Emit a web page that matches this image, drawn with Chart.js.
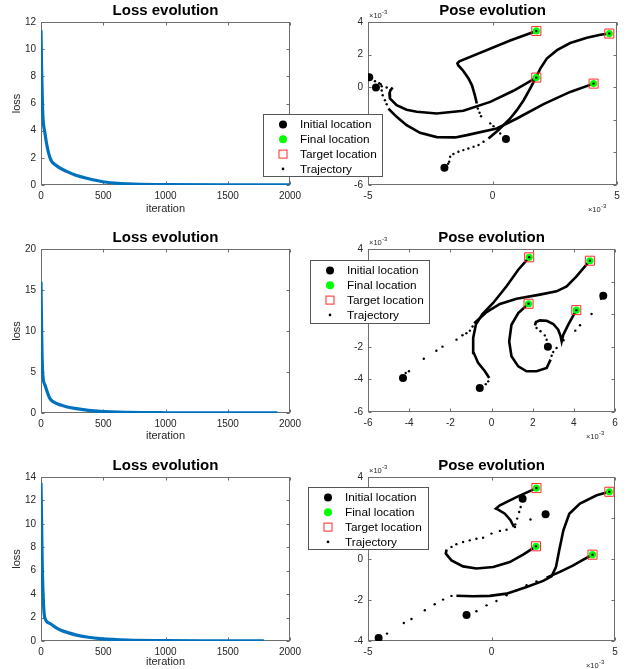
<!DOCTYPE html>
<html>
<head>
<meta charset="utf-8">
<title>Loss / Pose evolution</title>
<script src="https://cdn.jsdelivr.net/npm/chart.js@4.4.1/dist/chart.umd.min.js"></script>
<style>
  body { margin: 0; background: #fff; }
  #page { position: relative; width: 629px; height: 669px; overflow: hidden; background: #fff; }
  canvas { position: absolute; }
</style>
</head>
<body>
<div id="page">
  <canvas id="loss1"></canvas>
  <canvas id="loss2"></canvas>
  <canvas id="loss3"></canvas>
  <canvas id="pose1"></canvas>
  <canvas id="pose2"></canvas>
  <canvas id="pose3"></canvas>
</div>
<script>
// ---------------------------- loss curves ----------------------------
const lossIter1 = [0, 5, 13, 32, 72, 120, 206, 280, 367, 527, 700, 1000, 1500, 2000];
const lossVal1  = [11.4, 8.5, 5.5, 3.8, 2.0, 1.45, 1.0, 0.72, 0.5, 0.2, 0.08, 0.03, 0.01, 0.01];
const lossIter2 = [0, 5, 13, 32, 72, 120, 166, 220, 286, 380, 474, 700, 1000, 1500, 1900];
const lossVal2  = [16, 10, 5.0, 3.4, 1.75, 1.2, 0.94, 0.7, 0.53, 0.33, 0.2, 0.08, 0.03, 0.01, 0.01];
const lossIter3 = [0, 5, 10, 20, 30, 70, 120, 165, 220, 285, 380, 475, 700, 1000, 1400, 1790];
const lossVal3  = [13.5, 10, 6.5, 3.2, 2.0, 1.5, 1.15, 0.9, 0.7, 0.5, 0.32, 0.2, 0.07, 0.03, 0.015, 0.01];
const lossMax  = [12, 20, 14];
const lossStep = [2, 5, 2];

// ---------------------------- pose plots (units of 1e-3) ----------------------------
// row 1
const pose1Init   = [[-4.95, 0.61], [-4.68, -0.02], [0.54, -3.18], [-1.93, -4.94]];
const pose1Final  = [[1.76, 3.45], [4.69, 3.29], [1.76, 0.59], [4.06, 0.22]];
const pose1Target = [[1.76, 3.45], [4.69, 3.29], [1.76, 0.59], [4.06, 0.22]];
const pose1Lines = [
  [[-0.16, -3.14], [0.24, -2.63], [0.44, -2.33], [0.71, -1.92], [0.98, -1.41], [1.25, -0.80], [1.51, -0.08], [1.72, 0.53], [1.92, 1.14], [2.18, 1.76], [2.59, 2.27], [3.12, 2.71], [3.79, 3.04], [4.33, 3.22], [4.69, 3.29]],
  [[-4.18, -1.31], [-3.85, -1.82], [-3.45, -2.33], [-2.91, -2.80], [-2.24, -3.06], [-1.5, -3.08], [-1.03, -2.94], [0.17, -2.53], [0.98, -1.92], [2.05, -1.04], [3.12, -0.29], [4.06, 0.22]],
  [[-4.01, -0.02], [-4.1, -0.2], [-4.14, -0.39], [-4.12, -0.69], [-3.85, -1.10], [-3.45, -1.38], [-3.04, -1.51], [-2.24, -1.61], [-1.17, -1.45], [-0.09, -0.90], [0.84, -0.22], [1.76, 0.59]],
  [[-0.63, -1.0], [-0.70, -0.55], [-0.82, 0.1], [-0.97, 0.55], [-1.2, 1.05], [-1.38, 1.35], [-1.41, 1.47], [-1.33, 1.59], [0.71, 2.86], [1.76, 3.45]]
];
const pose1Dots = [
  [[-1.84, -4.88], [-1.78, -4.7], [-1.74, -4.57], [-1.70, -4.27], [-1.57, -4.10], [-1.37, -3.96], [-1.17, -3.86], [-0.97, -3.76], [-0.76, -3.65], [-0.56, -3.55], [-0.36, -3.35], [4.69, 3.29]],
  [[-4.72, 0.37], [-4.55, 0.25], [-4.49, 0.18], [-4.45, -0.2], [-4.41, -0.49], [-4.32, -0.80], [-4.25, -1.05], [4.06, 0.22]],
  [[-4.45, 0.06], [-4.25, -0.02], [1.76, 0.59]],
  [[0.31, -2.84], [0.04, -2.39], [-0.09, -2.22], [-0.46, -1.78], [-0.52, -1.57], [-0.59, -1.31], [1.76, 3.45]]
];
// row 2
const pose2Init   = [[5.43, 1.13], [-4.30, -3.92], [-0.57, -4.53], [2.74, -1.99]];
const pose2Final  = [[1.83, 3.49], [4.78, 3.28], [1.80, 0.64], [4.12, 0.25]];
const pose2Target = [[1.83, 3.49], [4.78, 3.28], [1.80, 0.64], [4.12, 0.25]];
const pose2Lines = [
  [[-0.84, -0.56], [-0.65, -0.34], [-0.24, 0.13], [0.41, 0.63], [1.22, 0.95], [2.35, 1.20], [3.16, 1.40], [3.65, 1.71], [4.13, 2.32], [4.54, 2.93], [4.78, 3.28]],
  [[-0.11, -3.91], [-0.32, -3.50], [-0.65, -2.99], [-0.86, -2.38], [-0.89, -1.46], [-0.76, -0.64], [-0.44, 0.01], [0.08, 0.69], [0.73, 1.71], [1.30, 2.73], [1.83, 3.49]],
  [[2.11, -0.68], [2.16, -0.48], [2.35, -0.38], [2.68, -0.40], [3.00, -0.60], [3.24, -0.95], [3.36, -1.36], [3.41, -1.67], [3.49, -1.26], [3.73, -0.64], [4.12, 0.25]],
  [[2.87, -2.79], [2.68, -3.30], [2.19, -3.50], [1.70, -3.50], [1.30, -3.20], [0.97, -2.58], [0.86, -1.67], [0.97, -0.65], [1.30, 0.07], [1.80, 0.64]]
];
const pose2Dots = [
  [[-4.17, -3.61], [-4.01, -3.50], [-3.29, -2.73], [-2.68, -2.24], [-2.38, -1.99], [-1.70, -1.56], [-1.41, -1.29], [-1.22, -1.17], [-1.05, -1.01], [-0.92, -0.75], [4.78, 3.28]],
  [[-0.28, -4.29], [-0.16, -4.12], [1.83, 3.49]],
  [[2.68, -1.57], [2.59, -1.30], [2.38, -1.05], [2.19, -0.85], [4.12, 0.25]],
  [[5.32, 0.95], [4.86, 0.01], [4.30, -0.68], [4.07, -1.01], [3.5, -1.6], [3.16, -2.07], [3.00, -2.32], [2.92, -2.55], [1.80, 0.64]]
];
// row 3
const pose3Init   = [[1.26, 2.94], [2.19, 2.18], [-1.01, -2.73], [-4.57, -3.85]];
const pose3Final  = [[1.82, 3.46], [4.77, 3.28], [1.80, 0.62], [4.09, 0.21]];
const pose3Target = [[1.82, 3.46], [4.77, 3.28], [1.80, 0.62], [4.09, 0.21]];
const pose3Lines = [
  [[0.91, 1.56], [0.77, 1.89], [0.54, 2.21], [0.27, 2.41], [0.18, 2.46], [0.34, 2.62], [1.01, 3.02], [1.82, 3.46]],
  [[-1.82, 0.46], [-1.85, 0.26], [-1.62, -0.07], [-1.15, -0.36], [-0.61, -0.46], [0.07, -0.39], [0.74, -0.15], [1.28, 0.21], [1.80, 0.62]],
  [[-1.42, -1.79], [-0.74, -1.82], [-0.07, -1.80], [0.61, -1.69], [1.42, -1.37], [2.09, -1.07], [2.43, -0.85], [2.61, -0.39], [2.74, 0.42], [2.91, 1.40], [3.15, 2.21], [3.58, 2.70], [4.26, 3.11], [4.77, 3.28]],
  [[2.23, -0.91], [2.77, -0.63], [3.31, -0.31], [3.72, -0.03], [4.09, 0.21]]
];
const pose3Dots = [
  [[1.18, 2.54], [1.12, 2.29], [1.04, 1.97], [0.96, 1.69], [1.82, 3.46]],
  [[1.58, 1.93], [0.95, 1.56], [0.61, 1.43], [0.34, 1.37], [0, 1.24], [-0.34, 1.04], [-0.61, 0.99], [-0.88, 0.91], [-1.15, 0.83], [-1.42, 0.72], [-1.62, 0.59], [1.80, 0.62]],
  [[-4.23, -3.64], [-3.55, -3.12], [-3.24, -2.93], [-2.70, -2.50], [-2.30, -2.21], [-1.96, -1.98], [-1.62, -1.80], [4.77, 3.28]],
  [[-0.61, -2.55], [-0.20, -2.26], [0.20, -2.05], [0.61, -1.77], [1.01, -1.53], [1.42, -1.28], [1.82, -1.09], [4.09, 0.21]]
];
// axis ranges for the pose plots
const poseX = [[-5, 5, 5], [-6, 6, 2], [-5, 5, 5]];
const poseY = [[-6, 4, 2], [-6, 4, 2], [-4, 4, 2]];

// ---------------------------- layout (page pixels) ----------------------------
const rowCells = [{y: 0, h: 222}, {y: 222, h: 226}, {y: 448, h: 221}];
const lossAreas = [{l: 41, t: 22, r: 290, b: 185}, {l: 41, t: 249, r: 290, b: 413}, {l: 41, t: 477, r: 290, b: 641}];
const poseAreas = [{l: 368, t: 22, r: 617, b: 185}, {l: 368, t: 249, r: 615, b: 412}, {l: 368, t: 477, r: 615, b: 641}];
const lossXH = [31, 30, 28];
const legendBoxes = [{x: 263, y: 114, w: 120, h: 63}, {x: 310, y: 260, w: 120, h: 64}, {x: 308, y: 487, w: 121, h: 63}];

const FONT = '"Liberation Sans", Arial, Helvetica, sans-serif';
Chart.defaults.font.family = FONT;
Chart.defaults.color = '#262626';

const toXY = pts => pts.map(p => ({x: p[0], y: p[1]}));

// matlab-ish box, inward ticks, x10^-3 labels and legend
const matlabAxes = {
  id: 'matlabAxes',
  beforeDatasetsDraw(chart) {
    const {ctx, chartArea: a, scales: {x, y}} = chart;
    const L = Math.round(a.left) + 0.5, R = Math.round(a.right) - 0.5;
    const T = Math.round(a.top) + 0.5, B = Math.round(a.bottom) - 0.5;
    ctx.save();
    ctx.strokeStyle = '#6e6e6e';
    ctx.lineWidth = 1;
    ctx.strokeRect(L, T, R - L, B - T);
    ctx.beginPath();
    x.ticks.forEach(t => {
      const px = Math.round(x.getPixelForValue(t.value)) + 0.5;
      ctx.moveTo(px, B); ctx.lineTo(px, B - 3);
      ctx.moveTo(px, T); ctx.lineTo(px, T + 3);
    });
    y.ticks.forEach(t => {
      const py = Math.round(y.getPixelForValue(t.value)) + 0.5;
      ctx.moveTo(L, py); ctx.lineTo(L + 3, py);
      ctx.moveTo(R, py); ctx.lineTo(R - 3, py);
    });
    ctx.stroke();
    ctx.restore();
  },
  afterDraw(chart, args, opts) {
    const {ctx, chartArea: a} = chart;
    ctx.save();
    if (opts.exponent) {
      const drawExp = (xx, yy, alignRight) => {
        ctx.font = '7.5px ' + FONT;
        const w1 = ctx.measureText('\u00d710').width;
        ctx.font = '6px ' + FONT;
        const w2 = ctx.measureText('-3').width;
        const x0 = alignRight ? xx - w1 - w2 : xx;
        ctx.fillStyle = '#262626';
        ctx.textBaseline = 'alphabetic';
        ctx.textAlign = 'left';
        ctx.font = '7.5px ' + FONT;
        ctx.fillText('\u00d710', x0, yy);
        ctx.font = '6px ' + FONT;
        ctx.fillText('-3', x0 + w1 + 0.3, yy - 4);
      };
      drawExp(a.left + 1, a.top - 4.5, false);
      drawExp(a.right - 11, a.bottom + 27, true);
    }
    if (opts.legend) {
      const b = opts.legend;
      ctx.fillStyle = '#fff';
      ctx.fillRect(b.x, b.y, b.w, b.h);
      ctx.strokeStyle = '#555';
      ctx.lineWidth = 1;
      ctx.strokeRect(b.x + 0.5, b.y + 0.5, b.w - 1, b.h - 1);
      const items = chart.data.datasets.filter(d => d.inLegend);
      items.forEach((d, i) => {
        const cy = b.y + 10.5 + i * 14.8;
        const cx = b.x + 20;
        ctx.beginPath();
        if (d.pointStyle === 'rect') {
          ctx.strokeStyle = d.borderColor;
          ctx.lineWidth = 1;
          ctx.strokeRect(cx - 4, cy - 4, 8, 8);
        } else {
          ctx.fillStyle = d.backgroundColor;
          ctx.arc(cx, cy, d.legendRadius, 0, Math.PI * 2);
          ctx.fill();
        }
        ctx.fillStyle = '#000';
        ctx.font = '11.8px ' + FONT;
        ctx.textBaseline = 'middle';
        ctx.textAlign = 'left';
        ctx.fillText(d.label, b.x + 37, cy + 0.5);
      });
    }
    ctx.restore();
  }
};

function place(canvas, cell) {
  canvas.width = cell.w;
  canvas.height = cell.h;
  canvas.style.left = cell.x + 'px';
  canvas.style.top = cell.y + 'px';
  canvas.style.width = cell.w + 'px';
  canvas.style.height = cell.h + 'px';
}

function makeChart(id, cell, area, yW, xH, title, datasets, xr, yr, axisTitles, extra) {
  const canvas = document.getElementById(id);
  place(canvas, cell);
  return new Chart(canvas, {
    type: 'scatter',
    data: {datasets: datasets},
    options: {
      responsive: false,
      animation: false,
      layout: {padding: {
        left: area.l - cell.x - yW,
        top: area.t - cell.y - 20,
        right: cell.x + cell.w - area.r,
        bottom: cell.y + cell.h - area.b - xH
      }},
      plugins: {
        legend: {display: false},
        tooltip: {enabled: false},
        title: {display: true, text: title, fullSize: false, color: '#000',
                font: {size: 15, weight: 'bold'}, padding: {top: 0, bottom: 2}},
        matlabAxes: extra
      },
      scales: {
        x: {
          type: 'linear', min: xr[0], max: xr[1],
          ticks: {stepSize: xr[2], padding: 5, font: {size: 10}, color: '#262626', maxRotation: 0,
                  callback: v => String(v)},
          grid: {display: false, drawTicks: false},
          border: {display: false},
          title: {display: !!axisTitles, text: axisTitles ? axisTitles[0] : '', font: {size: 11}, color: '#262626', padding: 0},
          afterFit: s => { s.height = xH; }
        },
        y: {
          type: 'linear', min: yr[0], max: yr[1],
          ticks: {stepSize: yr[2], padding: 5, font: {size: 10}, color: '#262626', callback: v => String(v)},
          grid: {display: false, drawTicks: false},
          border: {display: false},
          title: {display: !!axisTitles, text: axisTitles ? axisTitles[1] : '', font: {size: 11}, color: '#262626', padding: 0},
          afterFit: s => { s.width = yW; }
        }
      }
    },
    plugins: [matlabAxes]
  });
}

// ---------------------------- loss charts ----------------------------
const lossIters = [lossIter1, lossIter2, lossIter3];
const lossVals = [lossVal1, lossVal2, lossVal3];
lossIters.forEach((it, i) => {
  const pts = it.map((v, k) => ({x: v, y: lossVals[i][k]}));
  makeChart('loss' + (i + 1), {x: 0, y: rowCells[i].y, w: 320, h: rowCells[i].h}, lossAreas[i], 31, lossXH[i],
    'Loss evolution',
    [{data: pts, showLine: true, borderColor: '#0072BD', borderWidth: 3.2, pointRadius: 0, cubicInterpolationMode: 'monotone'}],
    [0, 2000, 500], [0, lossMax[i], lossStep[i]], ['iteration', 'loss'], {});
});

// ---------------------------- pose charts ----------------------------
function poseDatasets(init, fin, target, lines, dots) {
  const ds = [];
  lines.forEach(l => ds.push({data: toXY(l), showLine: true, borderColor: '#000', borderWidth: 2.6,
    pointRadius: 0, tension: 0, order: 6}));
  ds.push({label: 'Initial location', inLegend: true, data: toXY(init), pointStyle: 'circle', pointRadius: 4,
    backgroundColor: '#000', borderWidth: 0, legendRadius: 4, order: 4});
  ds.push({label: 'Final location', inLegend: true, data: toXY(fin), pointStyle: 'circle', pointRadius: 3.6,
    backgroundColor: '#00ff00', borderWidth: 0, legendRadius: 4, order: 3});
  ds.push({label: 'Target location', inLegend: true, data: toXY(target), pointStyle: 'rect', pointRadius: 6.4,
    backgroundColor: 'rgba(0,0,0,0)', borderColor: '#ff2a2a', borderWidth: 1, order: 2});
  ds.push({label: 'Trajectory', inLegend: true, data: toXY(dots.flat()), pointStyle: 'circle', pointRadius: 1.2,
    backgroundColor: '#000', borderWidth: 0, legendRadius: 1.3, order: 1});
  return ds;
}

const poseInit = [pose1Init, pose2Init, pose3Init];
const poseFinal = [pose1Final, pose2Final, pose3Final];
const poseTarget = [pose1Target, pose2Target, pose3Target];
const poseLines = [pose1Lines, pose2Lines, pose3Lines];
const poseDots = [pose1Dots, pose2Dots, pose3Dots];

poseInit.forEach((init, i) => {
  const cell = {x: 250, y: rowCells[i].y, w: 379, h: rowCells[i].h};
  const lb = legendBoxes[i];
  makeChart('pose' + (i + 1), cell, poseAreas[i], 25, 20, 'Pose evolution',
    poseDatasets(init, poseFinal[i], poseTarget[i], poseLines[i], poseDots[i]),
    poseX[i], poseY[i], null,
    {exponent: true, legend: {x: lb.x - cell.x, y: lb.y - cell.y, w: lb.w, h: lb.h}});
});
</script>
</body>
</html>
